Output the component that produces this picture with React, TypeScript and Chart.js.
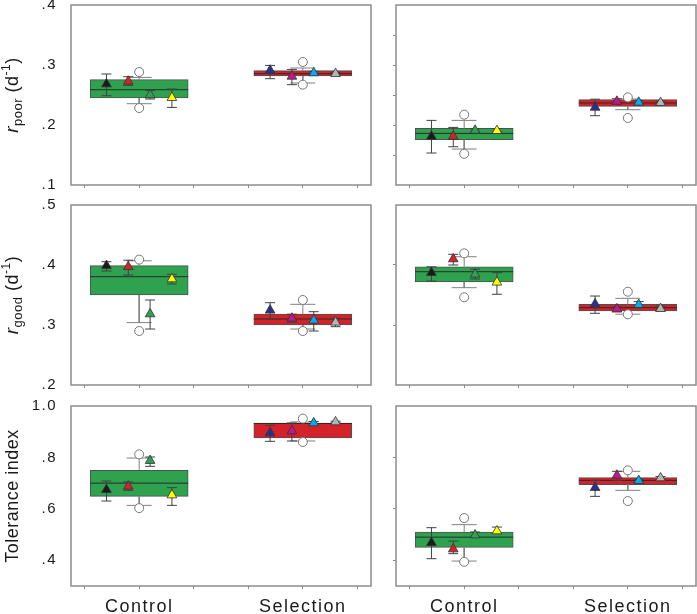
import React, { useEffect, useRef } from 'react';
import { Chart, registerables } from 'chart.js';
Chart.register(...registerables);

// ---------- categories / markers ----------
const groups = ['Control', 'Selection'];
const groupX = [0, 3];
const xTicks = [-1, 0, 1, 2, 3, 4];
const triOffsets = [-0.6, -0.2, 0.2, 0.6];
const boxColors = ['#2fa24f', '#d3222a'];
const ctrlColors = ['#1a1a1a', '#d3222a', '#2fa24f', '#ffff00'];
const selColors = ['#2b3090', '#c4168e', '#00aeef', '#b5b5b5'];

// ---------- y ticks ----------
const poorTicksL = [0.1, 0.2, 0.3, 0.4];
const poorTicksR = [0.15, 0.2, 0.25, 0.3, 0.35];
const goodTicksL = [0.2, 0.3, 0.4, 0.5];
const goodTicksR = [0.3, 0.4];
const tolTicksL = [0.4, 0.6, 0.8, 1.0];
const tolTicksR = [0.4, 0.6, 0.8];

// ---------- r_poor, left ----------  box: [q1, median, q3] per group
const poorL_box = [[0.245, 0.2588, 0.2755], [0.2817, 0.2855, 0.2905]];
const poorL_whisk = [[0.2355, 0.2793], [0.27, 0.295]];
const poorL_out = [[0.2283, 0.2883], [0.2672, 0.305]];
const poorL_mean = [[0.2683, 0.2727, 0.25, 0.2455], [0.291, 0.281, 0.2867, 0.2855]];
const poorL_err = [
  [[0.2488, 0.285], [0.266, 0.2805], [0.2433, 0.2572], [0.2293, 0.26]],
  [[0.2772, 0.2993], [0.2672, 0.2927], [0.284, 0.2895], [0.2835, 0.2875]],
];

// ---------- r_poor, right ----------
const poorR_box = [[0.1755, 0.186, 0.1943], [0.231, 0.2367, 0.2422]];
const poorR_whisk = [[0.16, 0.2077], [0.2255, 0.2433]];
const poorR_out = [[0.152, 0.2172], [0.2117, 0.246]];
const poorR_mean = [[0.181, 0.181, 0.191, 0.1905], [0.2293, 0.2393, 0.2377, 0.2372]];
const poorR_err = [
  [[0.1533, 0.2077], [0.1638, 0.196], [0.1885, 0.1935], [0.1885, 0.194]],
  [[0.2155, 0.243], [0.2355, 0.2438], [0.235, 0.2405], [0.235, 0.2395]],
];

// ---------- r_good, left ----------
const goodL_box = [[0.35, 0.3805, 0.399], [0.3, 0.31, 0.3183]];
const goodL_whisk = [[0.304, 0.407], [0.2933, 0.3345]];
const goodL_out = [[0.29, 0.409], [0.29, 0.3417]];
const goodL_mean = [[0.399, 0.397, 0.3183, 0.3767], [0.3245, 0.3112, 0.3078, 0.3045]];
const goodL_err = [
  [[0.39, 0.4055], [0.3833, 0.408], [0.2933, 0.3417], [0.3683, 0.3845]],
  [[0.31, 0.3372], [0.3045, 0.318], [0.29, 0.3222], [0.2972, 0.3112]],
];

// ---------- r_good, right ----------
const goodR_box = [[0.372, 0.3888, 0.397], [0.3233, 0.3288, 0.3345]];
const goodR_whisk = [[0.3622, 0.4138], [0.318, 0.3445]];
const goodR_out = [[0.3462, 0.4195], [0.3178, 0.3555]];
const goodR_mean = [[0.3872, 0.41, 0.3845, 0.3712], [0.335, 0.3267, 0.3338, 0.3272]];
const goodR_err = [
  [[0.3733, 0.397], [0.4, 0.4178], [0.3767, 0.393], [0.3512, 0.3872]],
  [[0.3195, 0.3483], [0.322, 0.33], [0.33, 0.339], [0.3235, 0.331]],
];

// ---------- tolerance index, left ----------
const tolL_box = [[0.6486, 0.7, 0.75], [0.8755, 0.932, 0.9339]];
const tolL_whisk = [[0.6136, 0.7977], [0.864, 0.938]];
const tolL_out = [[0.603, 0.812], [0.86, 0.951]];
const tolL_mean = [[0.6747, 0.6876, 0.7875, 0.6537], [0.895, 0.9027, 0.934, 0.9377]];
const tolL_err = [
  [[0.6304, 0.7082], [0.672, 0.7043], [0.7654, 0.8016], [0.6136, 0.6825]],
  [[0.8626, 0.925], [0.864, 0.934], [0.928, 0.94], [0.934, 0.941]],
];

// ---------- tolerance index, right ----------
const tolR_box = [[0.45, 0.49, 0.5097], [0.6942, 0.7109, 0.7214]];
const tolR_whisk = [[0.397, 0.5385], [0.672, 0.746]];
const tolR_out = [[0.394, 0.5642], [0.6304, 0.7498]];
const tolR_mean = [[0.4684, 0.4436, 0.498, 0.5136], [0.6825, 0.7303, 0.7097, 0.72]];
const tolR_err = [
  [[0.4062, 0.5268], [0.4257, 0.4747], [0.49, 0.51], [0.505, 0.5292]],
  [[0.6486, 0.711], [0.711, 0.746], [0.703, 0.716], [0.714, 0.726]],
];

const FONT = 'Arial, "Liberation Sans", Helvetica, sans-serif';

type Seg = { t: string; f: string; dy: number };
const poorTitle: Seg[] = [
  { t: 'r', f: `italic 19px ${FONT}`, dy: 0 },
  { t: 'poor', f: `13px ${FONT}`, dy: 4 },
  { t: ' (d', f: `18px ${FONT}`, dy: 0 },
  { t: '-1', f: `12px ${FONT}`, dy: -8 },
  { t: ')', f: `18px ${FONT}`, dy: 0 },
];
const goodTitle: Seg[] = [
  { t: 'r', f: `italic 19px ${FONT}`, dy: 0 },
  { t: 'good', f: `13px ${FONT}`, dy: 4 },
  { t: ' (d', f: `18px ${FONT}`, dy: 0 },
  { t: '-1', f: `12px ${FONT}`, dy: -8 },
  { t: ')', f: `18px ${FONT}`, dy: 0 },
];
const tolTitle: Seg[] = [{ t: 'Tolerance index', f: `18px ${FONT}`, dy: 0 }];

const fmt = (v: number) => {
  const s = v.toFixed(1);
  return s.startsWith('0') ? s.slice(1) : s;
};

const zeroPad = (s: any) => {
  s.paddingTop = 0; s.paddingBottom = 0; s.paddingLeft = 0; s.paddingRight = 0;
};

const framePlugin = {
  id: 'frame',
  beforeDraw(chart: any) {
    try { chart.ctx.letterSpacing = '1.5px'; } catch (e) {}
  },
  afterDraw(chart: any) {
    const { ctx, chartArea: a } = chart;
    ctx.save();
    ctx.strokeStyle = '#8c8c8c';
    ctx.lineWidth = 1.5;
    ctx.strokeRect(a.left, a.top, a.right - a.left, a.bottom - a.top);
    ctx.restore();
    try { ctx.letterSpacing = '0px'; } catch (e) {}
  },
};

const titlePlugin = (segs: Seg[] | null) => ({
  id: 'ytitle',
  afterDraw(chart: any) {
    if (!segs) return;
    const { ctx, chartArea: a } = chart;
    ctx.save();
    try { ctx.letterSpacing = '0.5px'; } catch (e) {}
    ctx.fillStyle = '#1a1a1a';
    ctx.textBaseline = 'alphabetic';
    ctx.textAlign = 'left';
    let total = 0;
    const widths = segs.map((s) => {
      ctx.font = s.f;
      const w = ctx.measureText(s.t).width;
      total += w;
      return w;
    });
    ctx.translate(18, (a.top + a.bottom) / 2);
    ctx.rotate(-Math.PI / 2);
    let x = -total / 2;
    segs.forEach((s, i) => {
      ctx.font = s.f;
      ctx.fillText(s.t, x, s.dy);
      x += widths[i];
    });
    ctx.restore();
  },
});

type PanelProps = {
  left: number; top: number; w: number; h: number;
  padTop: number; padRight: number; yw: number; xh: number;
  min: number; max: number; yt: number[];
  showY: boolean; showX: boolean; title: Seg[] | null;
  box: number[][]; whisk: number[][]; out: number[][]; mean: number[][]; err: number[][][];
};

function buildDatasets(p: PanelProps) {
  const whiskLine: any[] = [];
  const whiskCaps: any[] = [];
  const outs: any[] = [];
  groupX.forEach((x, i) => {
    whiskLine.push({ x, y: p.box[i][2] }, { x, y: p.whisk[i][1] }, { x, y: null });
    whiskLine.push({ x, y: p.box[i][0] }, { x, y: p.whisk[i][0] }, { x, y: null });
    whiskCaps.push({ x, y: p.whisk[i][0] }, { x, y: p.whisk[i][1] });
    outs.push({ x, y: p.out[i][0] }, { x, y: p.out[i][1] });
  });
  const errLine: any[] = [];
  const errCaps: any[] = [];
  const tris: any[] = [];
  const triCols: string[] = [];
  groupX.forEach((gx, g) => {
    triOffsets.forEach((o, k) => {
      const x = gx + o;
      const [lo, hi] = p.err[g][k];
      errLine.push({ x, y: lo }, { x, y: hi }, { x, y: null });
      errCaps.push({ x, y: lo }, { x, y: hi });
      tris.push({ x, y: p.mean[g][k] });
      triCols.push(g === 0 ? ctrlColors[k] : selColors[k]);
    });
  });
  return [
    {
      type: 'bar', label: 'box',
      data: groupX.map((x, i) => ({ x, y: [p.box[i][0], p.box[i][2]] })),
      backgroundColor: boxColors, borderColor: '#505050', borderWidth: 1,
      borderSkipped: false, barThickness: 98, order: 10,
    },
    {
      type: 'scatter', label: 'median',
      data: groupX.map((x, i) => ({ x, y: p.box[i][1] })),
      pointStyle: 'line', pointRadius: 49, borderColor: '#2a2a2a',
      pointBorderColor: '#2a2a2a', pointBorderWidth: 1, order: 9,
    },
    {
      type: 'scatter', label: 'whiskers', data: whiskLine, showLine: true, spanGaps: false,
      pointRadius: 0, borderColor: '#808080', borderWidth: 1, order: 8,
    },
    {
      type: 'scatter', label: 'whiskerCaps', data: whiskCaps, pointStyle: 'line',
      pointRadius: 12.5, borderColor: '#808080', pointBorderColor: '#808080', pointBorderWidth: 1, order: 7,
    },
    {
      type: 'scatter', label: 'outliers', data: outs, pointStyle: 'circle', pointRadius: 4.5,
      pointBackgroundColor: '#ffffff', pointBorderColor: '#777777', pointBorderWidth: 1, order: 6,
    },
    {
      type: 'scatter', label: 'errors', data: errLine, showLine: true, spanGaps: false,
      pointRadius: 0, borderColor: '#404040', borderWidth: 1, order: 5,
    },
    {
      type: 'scatter', label: 'errorCaps', data: errCaps, pointStyle: 'line', pointRadius: 5,
      borderColor: '#404040', pointBorderColor: '#404040', pointBorderWidth: 1, order: 4,
    },
    {
      type: 'scatter', label: 'means', data: tris, pointStyle: 'triangle', pointRadius: 5.6,
      pointBackgroundColor: triCols, pointBorderColor: '#333333', pointBorderWidth: 0.8, order: 1,
    },
  ];
}

function Panel(p: PanelProps) {
  const ref = useRef<HTMLCanvasElement>(null);
  useEffect(() => {
    if (!ref.current) return;
    const chart = new Chart(ref.current, {
      type: 'scatter',
      data: { datasets: buildDatasets(p) as any },
      options: {
        animation: false,
        responsive: false,
        maintainAspectRatio: false,
        events: [],
        layout: { autoPadding: false, padding: { top: p.padTop, right: p.padRight, left: 0, bottom: 0 } },
        plugins: { legend: { display: false }, tooltip: { enabled: false } },
        scales: {
          x: {
            type: 'linear', min: -1.25, max: 4.25, offset: false,
            afterBuildTicks: (s: any) => { s.ticks = xTicks.map((v) => ({ value: v })); },
            afterFit: (s: any) => { s.height = p.xh; zeroPad(s); },
            grid: { display: true, drawOnChartArea: false, drawTicks: true, tickLength: 3, tickColor: '#8c8c8c', offset: false },
            border: { display: false },
            ticks: {
              display: p.showX, autoSkip: false, maxRotation: 0, minRotation: 0, padding: 7,
              color: '#1a1a1a', font: { family: FONT, size: 18 },
              callback: (v: any) => { const i = groupX.indexOf(Number(v)); return i >= 0 ? groups[i] : ''; },
            },
          },
          y: {
            type: 'linear', min: p.min, max: p.max,
            afterBuildTicks: (s: any) => { s.ticks = p.yt.map((v) => ({ value: v })); },
            afterFit: (s: any) => { s.width = p.yw; zeroPad(s); },
            grid: { display: true, drawOnChartArea: false, drawTicks: !p.showY, tickLength: 3, tickColor: '#8c8c8c' },
            border: { display: false },
            ticks: {
              display: p.showY, padding: 14, color: '#1a1a1a', font: { family: FONT, size: 15 },
              callback: (v: any) => fmt(Number(v)),
            },
          },
        },
      } as any,
      plugins: [framePlugin, titlePlugin(p.title)],
    });
    return () => chart.destroy();
  }, []);
  return (
    <canvas
      ref={ref}
      width={p.w}
      height={p.h}
      style={{ position: 'absolute', left: p.left, top: p.top, width: p.w, height: p.h }}
    />
  );
}

export default function App() {
  const L = { left: 0, w: 380, padRight: 9, yw: 71, showY: true };
  const R = { left: 380, w: 317, padRight: 1, yw: 16, showY: false, title: null };
  const row1 = { top: -5, h: 200, padTop: 10, xh: 10, showX: false, min: 0.1, max: 0.4 };
  const row2 = { top: 195, h: 200, padTop: 10, xh: 10, showX: false, min: 0.2, max: 0.5 };
  const row3 = { top: 395, h: 219, padTop: 11, xh: 28, showX: true, min: 0.3, max: 1.0 };
  return (
    <div style={{ position: 'fixed', left: 0, top: 0, width: 697, height: 614, overflow: 'hidden', background: '#fff' }}>
      <Panel {...L} {...row1} title={poorTitle} yt={poorTicksL} box={poorL_box} whisk={poorL_whisk} out={poorL_out} mean={poorL_mean} err={poorL_err} />
      <Panel {...R} {...row1} yt={poorTicksR} box={poorR_box} whisk={poorR_whisk} out={poorR_out} mean={poorR_mean} err={poorR_err} />
      <Panel {...L} {...row2} title={goodTitle} yt={goodTicksL} box={goodL_box} whisk={goodL_whisk} out={goodL_out} mean={goodL_mean} err={goodL_err} />
      <Panel {...R} {...row2} yt={goodTicksR} box={goodR_box} whisk={goodR_whisk} out={goodR_out} mean={goodR_mean} err={goodR_err} />
      <Panel {...L} {...row3} title={tolTitle} yt={tolTicksL} box={tolL_box} whisk={tolL_whisk} out={tolL_out} mean={tolL_mean} err={tolL_err} />
      <Panel {...R} {...row3} yt={tolTicksR} box={tolR_box} whisk={tolR_whisk} out={tolR_out} mean={tolR_mean} err={tolR_err} />
    </div>
  );
}
